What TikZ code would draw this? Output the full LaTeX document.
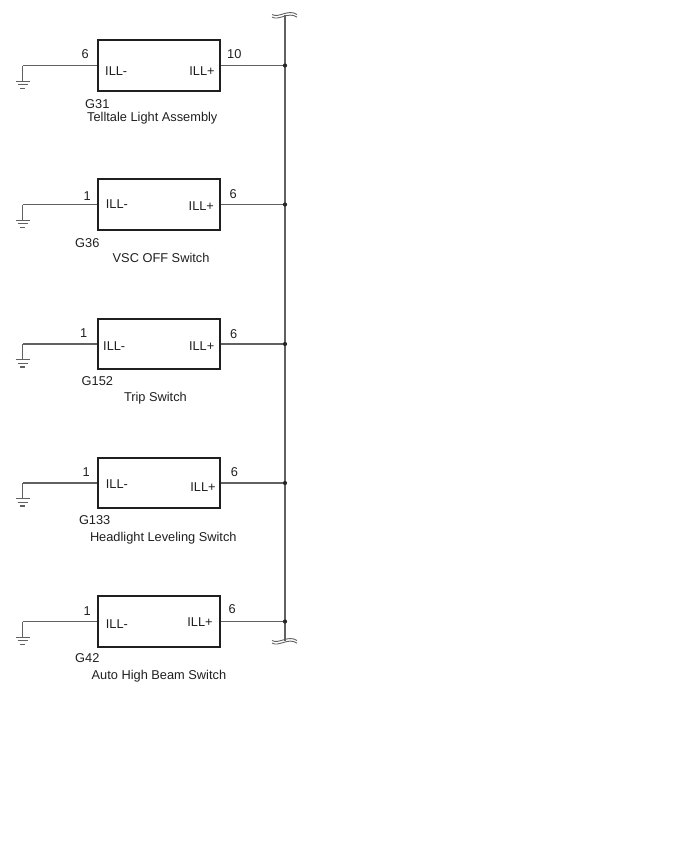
\documentclass[tikz,border=0pt]{standalone}
\usepackage{fontspec}
\setmainfont{Liberation Sans}
\usetikzlibrary{positioning}

\tikzset{
  unit/.style={draw=black!88, line width=1.6pt, minimum width=122pt,
    minimum height=50.5pt, inner sep=0pt},
  wire/.style={draw=black!62, line width=1.1pt},
  txt/.style={anchor=base west, inner sep=0pt, text=black!88},
  earth/.pic={
    \draw[wire] (0,0) -- (0,15.7);
    \draw[wire] (-7,15.7) -- (7,15.7) (-5,19.3) -- (5,19.3) (-2.5,23) -- (2.5,23);
  },
  brk/.pic={
    \draw[wire, line width=0.9pt] (-13,0) .. controls (-6,4) and (3,-6) .. (12,0)
      (-13,2.6) .. controls (-6,6.6) and (3,-3.4) .. (12,2.6);
  },
}

\begin{document}
\begin{tikzpicture}[x=1pt, y=-1pt, font=\fontsize{12.8}{15}\selectfont]
  \useasboundingbox (0,0) rectangle (688,852);

  % G31
  \node[unit] (g31) at (158.9,65.5) {};
  \node[txt] (g31-neg) at (105,75) {ILL-};
  \node[txt] (g31-pos) at (189.2,75) {ILL+};
  \node[txt] (g31-pn) at (81.5,58) {6};
  \node[txt] (g31-pp) at (227,58) {10};
  \node[txt] (g31-id) at (85,108.3) {G31};
  \node[txt] (g31-name) at (87,121) {Telltale Light Assembly};

  % G36
  \node[unit] (g36) at (158.9,204.5) {};
  \node[txt] (g36-neg) at (105.7,208.3) {ILL-};
  \node[txt] (g36-pos) at (188.5,210.7) {ILL+};
  \node[txt] (g36-pn) at (83.3,200) {1};
  \node[txt] (g36-pp) at (229.3,198.3) {6};
  \node[txt] (g36-id) at (75,247.3) {G36};
  \node[txt] (g36-name) at (112.5,262.7) {VSC OFF Switch};

  % G152
  \node[unit] (g152) at (158.9,344) {};
  \node[txt] (g152-neg) at (103,350.7) {ILL-};
  \node[txt] (g152-pos) at (188.8,350) {ILL+};
  \node[txt] (g152-pn) at (80,337.3) {1};
  \node[txt] (g152-pp) at (230,338.3) {6};
  \node[txt] (g152-id) at (81.5,385) {G152};
  \node[txt] (g152-name) at (123.8,401.7) {Trip Switch};

  % G133
  \node[unit] (g133) at (158.9,483) {};
  \node[txt] (g133-neg) at (105.7,488.3) {ILL-};
  \node[txt] (g133-pos) at (190.2,491) {ILL+};
  \node[txt] (g133-pn) at (82.3,476) {1};
  \node[txt] (g133-pp) at (230.7,476.7) {6};
  \node[txt] (g133-id) at (78.8,524) {G133};
  \node[txt] (g133-name) at (89.8,541.7) {Headlight Leveling Switch};

  % G42
  \node[unit] (g42) at (158.9,621.5) {};
  \node[txt] (g42-neg) at (105.7,628.3) {ILL-};
  \node[txt] (g42-pos) at (187.2,626) {ILL+};
  \node[txt] (g42-pn) at (83.3,615.7) {1};
  \node[txt] (g42-pp) at (228.3,613.3) {6};
  \node[txt] (g42-id) at (75,662.7) {G42};
  \node[txt] (g42-name) at (91.5,679) {Auto High Beam Switch};

  % bus
  \coordinate (bustop) at (285,14.5);
  \coordinate (busbot) at (285,640.5);
  \draw[wire] (bustop) -- (busbot);
  \pic at (bustop) {brk};
  \pic at (busbot) {brk};

  \foreach \u in {g31,g36,g152,g133,g42} {
    \coordinate (\u-gnd) at (\u.west -| 22.7,0);
    \coordinate (\u-jn) at (\u.east -| bustop);
    \draw[wire] (\u.west) -- (\u-gnd);
    \draw[wire] (\u.east) -- (\u-jn);
    \pic at (\u-gnd) {earth};
    \fill[black!85] (\u-jn) circle[radius=2.1pt];
  }
\end{tikzpicture}
\end{document}
